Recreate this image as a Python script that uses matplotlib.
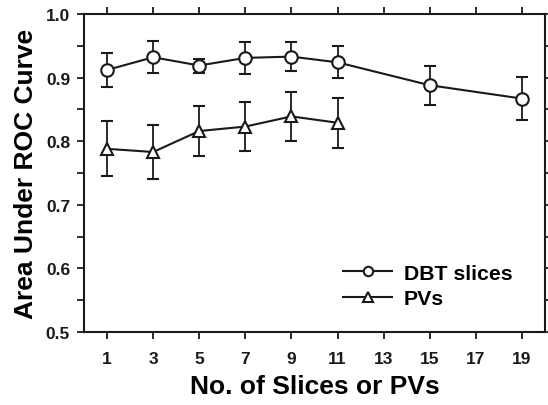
import numpy as np
import matplotlib.pyplot as plt

plt.rcParams["font.family"] = ["Liberation Sans", "DejaVu Sans"]
plt.rcParams["font.weight"] = "bold"

dbt_x = [1, 3, 5, 7, 9, 11, 15, 19]
dbt_auc = [0.912, 0.932, 0.919, 0.931, 0.933, 0.924, 0.888, 0.867]
dbt_err = [0.027, 0.025, 0.011, 0.025, 0.023, 0.025, 0.031, 0.034]

pv_x = [1, 3, 5, 7, 9, 11]
pv_auc = [0.788, 0.783, 0.816, 0.823, 0.839, 0.829]
pv_err = [0.043, 0.043, 0.040, 0.039, 0.038, 0.039]

x_ticks = [1, 3, 5, 7, 9, 11, 13, 15, 17, 19]

fig = plt.figure(figsize=(5.48, 4.06), dpi=100)
ax = fig.add_axes([84 / 548, 1 - 333 / 406, (545 - 84) / 548, (333 - 15) / 406])

ax.errorbar(dbt_x, dbt_auc, yerr=dbt_err, color="#1a1a1a", lw=1.5, capsize=4,
            elinewidth=1.3, capthick=1.3, marker="o", ms=9, mfc="white",
            mec="#1a1a1a", mew=1.5, label="DBT slices")
ax.errorbar(pv_x, pv_auc, yerr=pv_err, color="#1a1a1a", lw=1.5, capsize=4,
            elinewidth=1.3, capthick=1.3, marker="^", ms=9, mfc="white",
            mec="#1a1a1a", mew=1.5, label="PVs")

ax.set_xlim(0, 20)
ax.set_ylim(0.5, 1.0)
ax.set_xticks(x_ticks)
ax.set_yticks(np.arange(0.5, 1.01, 0.1))
ax.set_yticks(np.arange(0.55, 1.0, 0.1), minor=True)
ax.tick_params(which="both", direction="out", top=True, right=True,
               width=1.3, length=5, labelsize=12.5, colors="#1a1a1a", pad=5)
ax.tick_params(axis="x", pad=9)
for s in ax.spines.values():
    s.set_linewidth(1.5)
    s.set_color("#1a1a1a")

ax.set_xlabel("No. of Slices or PVs", fontsize=19, fontweight="bold", labelpad=5.5)
ax.set_ylabel("Area Under ROC Curve", fontsize=19, fontweight="bold", labelpad=6)

handles, labels = ax.get_legend_handles_labels()
handles = [h[0] for h in handles]
ax.legend(handles, labels, loc="upper left", bbox_to_anchor=(0.562, 0.215),
          frameon=False, fontsize=15.3, handlelength=2.3, handletextpad=0.55,
          labelspacing=0.32, markerscale=0.75, borderpad=0, borderaxespad=0)

fig.savefig("out.png", dpi=100)
